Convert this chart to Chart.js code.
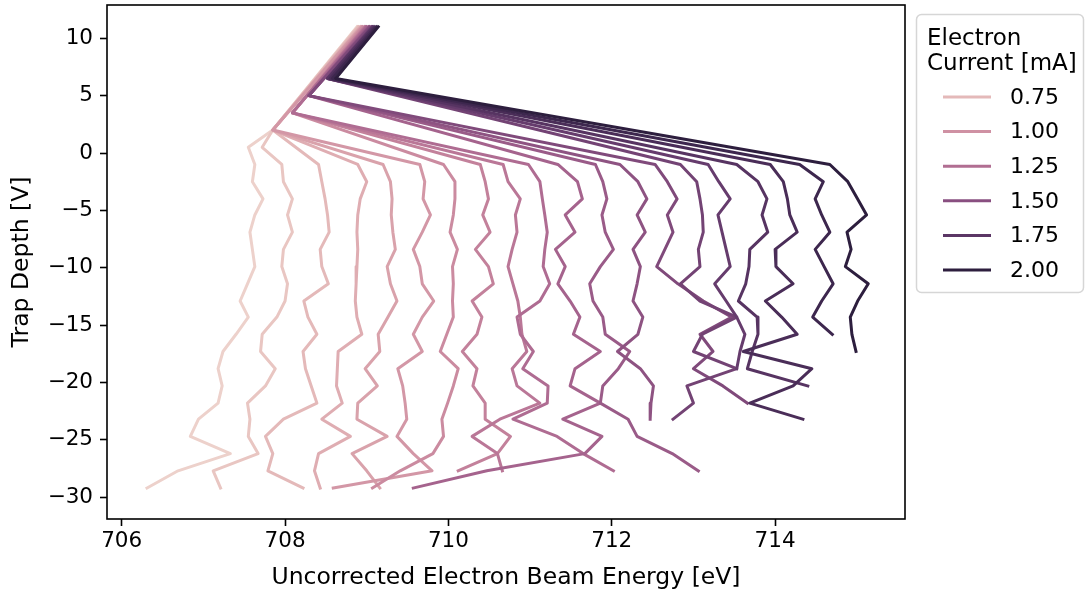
<!DOCTYPE html>
<html>
<head>
<meta charset="utf-8">
<script src="https://cdn.jsdelivr.net/npm/chart.js@4.4.1/dist/chart.umd.min.js"></script>
<style>
  html, body { margin: 0; padding: 0; background: #fff; }
  #wrap { position: relative; width: 1086px; height: 596px; }
</style>
</head>
<body>
<div id="wrap"><canvas id="chart" width="1086" height="596"></canvas></div>
<script>
// electron current of each trace [mA], light -> dark
const currents = [0.60, 0.67, 0.75, 0.82, 0.89, 0.96, 1.04, 1.11, 1.18, 1.26,
                  1.33, 1.40, 1.47, 1.55, 1.62, 1.69, 1.77, 1.84, 1.91, 2.00];
const legendCurrents = [0.75, 1.00, 1.25, 1.50, 1.75, 2.00];
const xTicks = [706, 708, 710, 712, 714];
const yTicks = [-30, -25, -20, -15, -10, -5, 0, 5, 10];

// trap depth levels [V] shared by the lower part of every trace
const depthGrid = [0.5, -1.0, -2.5, -4.0, -5.4, -6.9, -8.4, -9.9, -11.4, -12.9, -14.3,
                   -15.8, -17.3, -18.8, -20.3, -21.8, -23.2, -24.7, -26.2, -27.7, -29.2];

// first point of each trace (trap depth 11 V)
const topDepth = 11;
const topEnergy = [708.88, 708.89, 708.90, 708.92, 708.93, 708.94, 708.95, 708.97, 708.98, 708.99,
                   709.00, 709.02, 709.03, 709.04, 709.06, 709.07, 709.08, 709.10, 709.12, 709.14];
// knee of each trace
const kneeDepth = [2.0, 2.0, 2.0, 2.0, 2.0, 2.0, 3.5, 3.5, 3.5, 3.5,
                   5.0, 5.0, 5.0, 5.0, 6.5, 6.5, 6.5, 6.5, 6.5, 6.5];
const kneeEnergy = [707.85, 707.85, 707.85, 707.85, 707.85, 707.85, 708.09, 708.09, 708.09, 708.09,
                    708.29, 708.29, 708.29, 708.29, 708.52, 708.52, 708.52, 708.55, 708.58, 708.62];
// index into depthGrid where each trace's energy list starts
const firstLevel = [0, 0, 1, 1, 1, 1, 1, 1, 1, 1, 1, 1, 1, 1, 1, 1, 1, 1, 1, 1];

// uncorrected beam energy [eV] at successive depth levels
const energyL01 = [707.55, 707.63, 707.60, 707.73, 707.63, 707.57, 707.60, 707.63, 707.54, 707.45, 707.55,
                   707.40, 707.24, 707.18, 707.23, 707.18, 706.94, 706.84, 707.33, 706.69, 706.31];
const energyL02 = [707.72, 707.96, 707.98, 708.09, 708.03, 708.09, 707.98, 707.96, 708.03, 708.00, 707.90,
                   707.72, 707.70, 707.88, 707.76, 707.54, 707.57, 707.55, 707.67, 707.12, 707.21];
const energyL03 = [708.41, 708.45, 708.49, 708.52, 708.54, 708.43, 708.45, 708.53, 708.23, 708.28,
                   708.39, 708.22, 708.25, 708.32, 708.39, 707.98, 707.76, 707.85, 707.79, 708.22];
const energyL04 = [708.89, 709.00, 708.92, 708.89, 708.88, 708.89, 708.88, 708.87, 708.86, 708.88,
                   708.94, 708.65, 708.64, 708.63, 708.70, 708.45, 708.80, 708.41, 708.36, 708.43];
const energyL05 = [709.20, 709.29, 709.31, 709.30, 709.32, 709.35, 709.25, 709.29, 709.37, 709.26,
                   709.14, 709.16, 708.98, 709.13, 708.89, 708.88, 709.25, 708.82, 709.00, 709.16];
const energyL06 = [709.65, 709.71, 709.69, 709.78, 709.68, 709.57, 709.65, 709.68, 709.82, 709.68,
                   709.57, 709.68, 709.38, 709.44, 709.47, 709.49, 709.37, 709.57, 709.80, 708.59];
const energyL07 = [709.94, 710.08, 710.08, 710.06, 710.02, 710.11, 710.05, 710.06, 710.05, 710.06,
                   709.98, 709.90, 710.12, 710.06, 709.99, 709.92, 709.94, 709.81, 709.41, 709.07];
const energyL08 = [710.39, 710.45, 710.49, 710.42, 710.51, 710.33, 710.49, 710.55, 710.29, 710.41,
                   710.35, 710.17, 710.35, 710.30, 710.45, 710.45, 710.76, 710.60, 710.12];
const energyL09 = [710.67, 710.73, 710.88, 710.82, 710.84, 710.78, 710.73, 710.79, 710.85, 710.88,
                   710.90, 710.96, 710.78, 710.84, 711.12, 710.63, 710.29, 710.60, 710.66];
const energyL10 = [710.98, 711.12, 711.15, 711.18, 711.21, 711.18, 711.16, 711.24, 711.12, 710.84,
                   710.88, 711.04, 710.91, 711.22, 711.21, 710.79, 711.33, 711.65, 712.02];
const energyL11 = [711.34, 711.58, 711.64, 711.43, 711.55, 711.31, 711.43, 711.34, 711.49, 711.61,
                   711.53, 711.86, 711.55, 711.49, 711.86, 711.40, 711.88, 711.67, 710.47, 709.57];
const energyL12 = [711.80, 711.89, 711.94, 711.88, 711.92, 712.02, 711.86, 711.73, 711.77, 711.89,
                   711.92, 712.22, 712.08, 711.89, 711.86, 712.20, 712.31, 712.74, 713.06];
const energyL13 = [712.10, 712.32, 712.43, 712.31, 712.41, 712.26, 712.35, 712.31, 712.26, 712.38,
                   712.32, 712.07, 712.35, 712.51, 712.48, 712.47];
const energyL14 = [712.53, 712.68, 712.80, 712.68, 712.75, 712.65, 712.55, 712.81, 713.12, 713.47,
                   713.08, 713.24, 713.00, 713.36, 713.66];
const energyL15 = [712.84, 713.04, 713.08, 713.11, 713.12, 713.06, 713.08, 712.84, 713.08, 713.53,
                   713.11, 713.00, 713.53, 712.92, 713.00, 712.75];
const energyL16 = [713.18, 713.31, 713.45, 713.30, 713.35, 713.40, 713.45, 713.26, 713.40, 713.53,
                   713.63, 713.57, 713.53];
const energyL17 = [713.53, 713.79, 713.90, 713.84, 713.91, 713.69, 713.68, 713.64, 713.55, 713.78,
                   713.79, 713.72, 713.66, 714.40];
const energyL18 = [713.94, 714.10, 714.15, 714.18, 714.27, 714.00, 714.01, 714.22, 713.88, 714.08,
                   714.27, 713.61, 714.45, 714.22, 713.69, 714.34];
const energyL19 = [714.30, 714.59, 714.49, 714.57, 714.67, 714.49, 714.60, 714.71, 714.57, 714.46, 714.70];
const energyL20 = [714.67, 714.89, 715.01, 715.12, 714.88, 714.93, 714.86, 715.14, 715.01, 714.92,
                   714.94, 714.99];

const lineEnergies = [energyL01, energyL02, energyL03, energyL04, energyL05, energyL06, energyL07,
                      energyL08, energyL09, energyL10, energyL11, energyL12, energyL13, energyL14,
                      energyL15, energyL16, energyL17, energyL18, energyL19, energyL20];

// seaborn's default sequential hue map (cubehelix, light .85 -> dark .15)
function cubehelix(t) {
    const x = 0.85 - 0.7 * t;
    const phi = 2 * Math.PI * (0.4 * x);
    const a = 0.8 * x * (1 - x) / 2;
    const c = Math.cos(phi), s = Math.sin(phi);
    const ch = v => Math.round(255 * Math.min(1, Math.max(0, v)));
    const r = x + a * (-0.14861 * c + 1.78277 * s);
    const g = x + a * (-0.29227 * c - 0.90649 * s);
    const b = x + a * (1.97294 * c);
    return `rgb(${ch(r)}, ${ch(g)}, ${ch(b)})`;
}
const cMin = Math.min(...currents), cMax = Math.max(...currents);
const colorFor = v => cubehelix((v - cMin) / (cMax - cMin));

const datasets = currents.map((cur, i) => {
    const pts = [{ x: topEnergy[i], y: topDepth }, { x: kneeEnergy[i], y: kneeDepth[i] }];
    lineEnergies[i].forEach((e, j) => pts.push({ x: e, y: depthGrid[firstLevel[i] + j] }));
    return {
        label: cur.toFixed(2),
        data: pts,
        showLine: true,
        borderColor: colorFor(cur),
        borderWidth: 3,
        borderJoinStyle: 'round',
        borderCapStyle: 'square',
        pointRadius: 0,
        pointHoverRadius: 0,
        tension: 0,
        order: currents.length - i   // darker traces on top
    };
});

const FONT = 'DejaVu Sans';
const fmt = v => (v < 0 ? '\u2212' + Math.abs(v) : String(v));

// plot frame and the boxed legend
const framePlugin = {
    id: 'frame',
    afterDraw(chart) {
        const { ctx, chartArea: a } = chart;
        ctx.save();
        ctx.strokeStyle = '#000';
        ctx.lineWidth = 1.6;
        ctx.strokeRect(a.left, a.top, a.right - a.left, a.bottom - a.top);

        // legend box
        const bx = 916.5, by = 14.5, bw = 167, bh = 278, r = 5;
        ctx.beginPath();
        ctx.moveTo(bx + r, by);
        ctx.lineTo(bx + bw - r, by);
        ctx.arcTo(bx + bw, by, bx + bw, by + r, r);
        ctx.lineTo(bx + bw, by + bh - r);
        ctx.arcTo(bx + bw, by + bh, bx + bw - r, by + bh, r);
        ctx.lineTo(bx + r, by + bh);
        ctx.arcTo(bx, by + bh, bx, by + bh - r, r);
        ctx.lineTo(bx, by + r);
        ctx.arcTo(bx, by, bx + r, by, r);
        ctx.closePath();
        ctx.fillStyle = 'rgba(255,255,255,0.8)';
        ctx.fill();
        ctx.strokeStyle = '#d6d6d6';
        ctx.lineWidth = 1.5;
        ctx.stroke();

        ctx.fillStyle = '#000';
        ctx.textBaseline = 'alphabetic';
        ctx.textAlign = 'left';
        ctx.font = `23px "${FONT}"`;
        ctx.fillText('Electron', 927, 45);
        ctx.fillText('Current [mA]', 927, 70);

        ctx.font = `22px "${FONT}"`;
        ctx.textBaseline = 'middle';
        legendCurrents.forEach((v, i) => {
            const y = 97 + i * 34.6;
            ctx.strokeStyle = colorFor(v);
            ctx.lineWidth = 3;
            ctx.beginPath();
            ctx.moveTo(943, y);
            ctx.lineTo(991, y);
            ctx.stroke();
            ctx.fillText(v.toFixed(2), 1010, y + 1);
        });
        ctx.restore();
    }
};

new Chart(document.getElementById('chart'), {
    type: 'scatter',
    data: { datasets },
    plugins: [framePlugin],
    options: {
        responsive: false,
        animation: false,
        devicePixelRatio: 1,
        layout: { padding: { left: 0, top: 5, right: 181, bottom: 0 } },
        plugins: { legend: { display: false }, tooltip: { enabled: false } },
        scales: {
            x: {
                type: 'linear',
                min: 705.82,
                max: 715.59,
                afterFit: s => { s.height = 77; s.paddingLeft = 0; s.paddingRight = 0; },
                afterBuildTicks: s => { s.ticks = xTicks.map(v => ({ value: v })); },
                grid: { display: true, drawOnChartArea: false, drawTicks: true, tickLength: 7,
                        tickColor: '#000', tickWidth: 1.6 },
                border: { display: false },
                ticks: { color: '#000', padding: 3, font: { family: FONT, size: 21.5 },
                         maxRotation: 0, callback: v => fmt(v) },
                title: { display: true, text: 'Uncorrected Electron Beam Energy [eV]', color: '#000',
                         font: { family: FONT, size: 23.5 }, padding: { top: 0, bottom: 4 } }
            },
            y: {
                type: 'linear',
                min: -31.9,
                max: 12.9,
                afterFit: s => { s.width = 107; s.paddingTop = 0; s.paddingBottom = 0; },
                afterBuildTicks: s => { s.ticks = yTicks.map(v => ({ value: v })); },
                grid: { display: true, drawOnChartArea: false, drawTicks: true, tickLength: 7,
                        tickColor: '#000', tickWidth: 1.6 },
                border: { display: false },
                ticks: { color: '#000', padding: 7, font: { family: FONT, size: 21.5 },
                         callback: v => fmt(v) },
                title: { display: true, text: 'Trap Depth [V]', color: '#000',
                         font: { family: FONT, size: 23.5 }, padding: { top: 8, bottom: 0 } }
            }
        }
    }
});
</script>
</body>
</html>
